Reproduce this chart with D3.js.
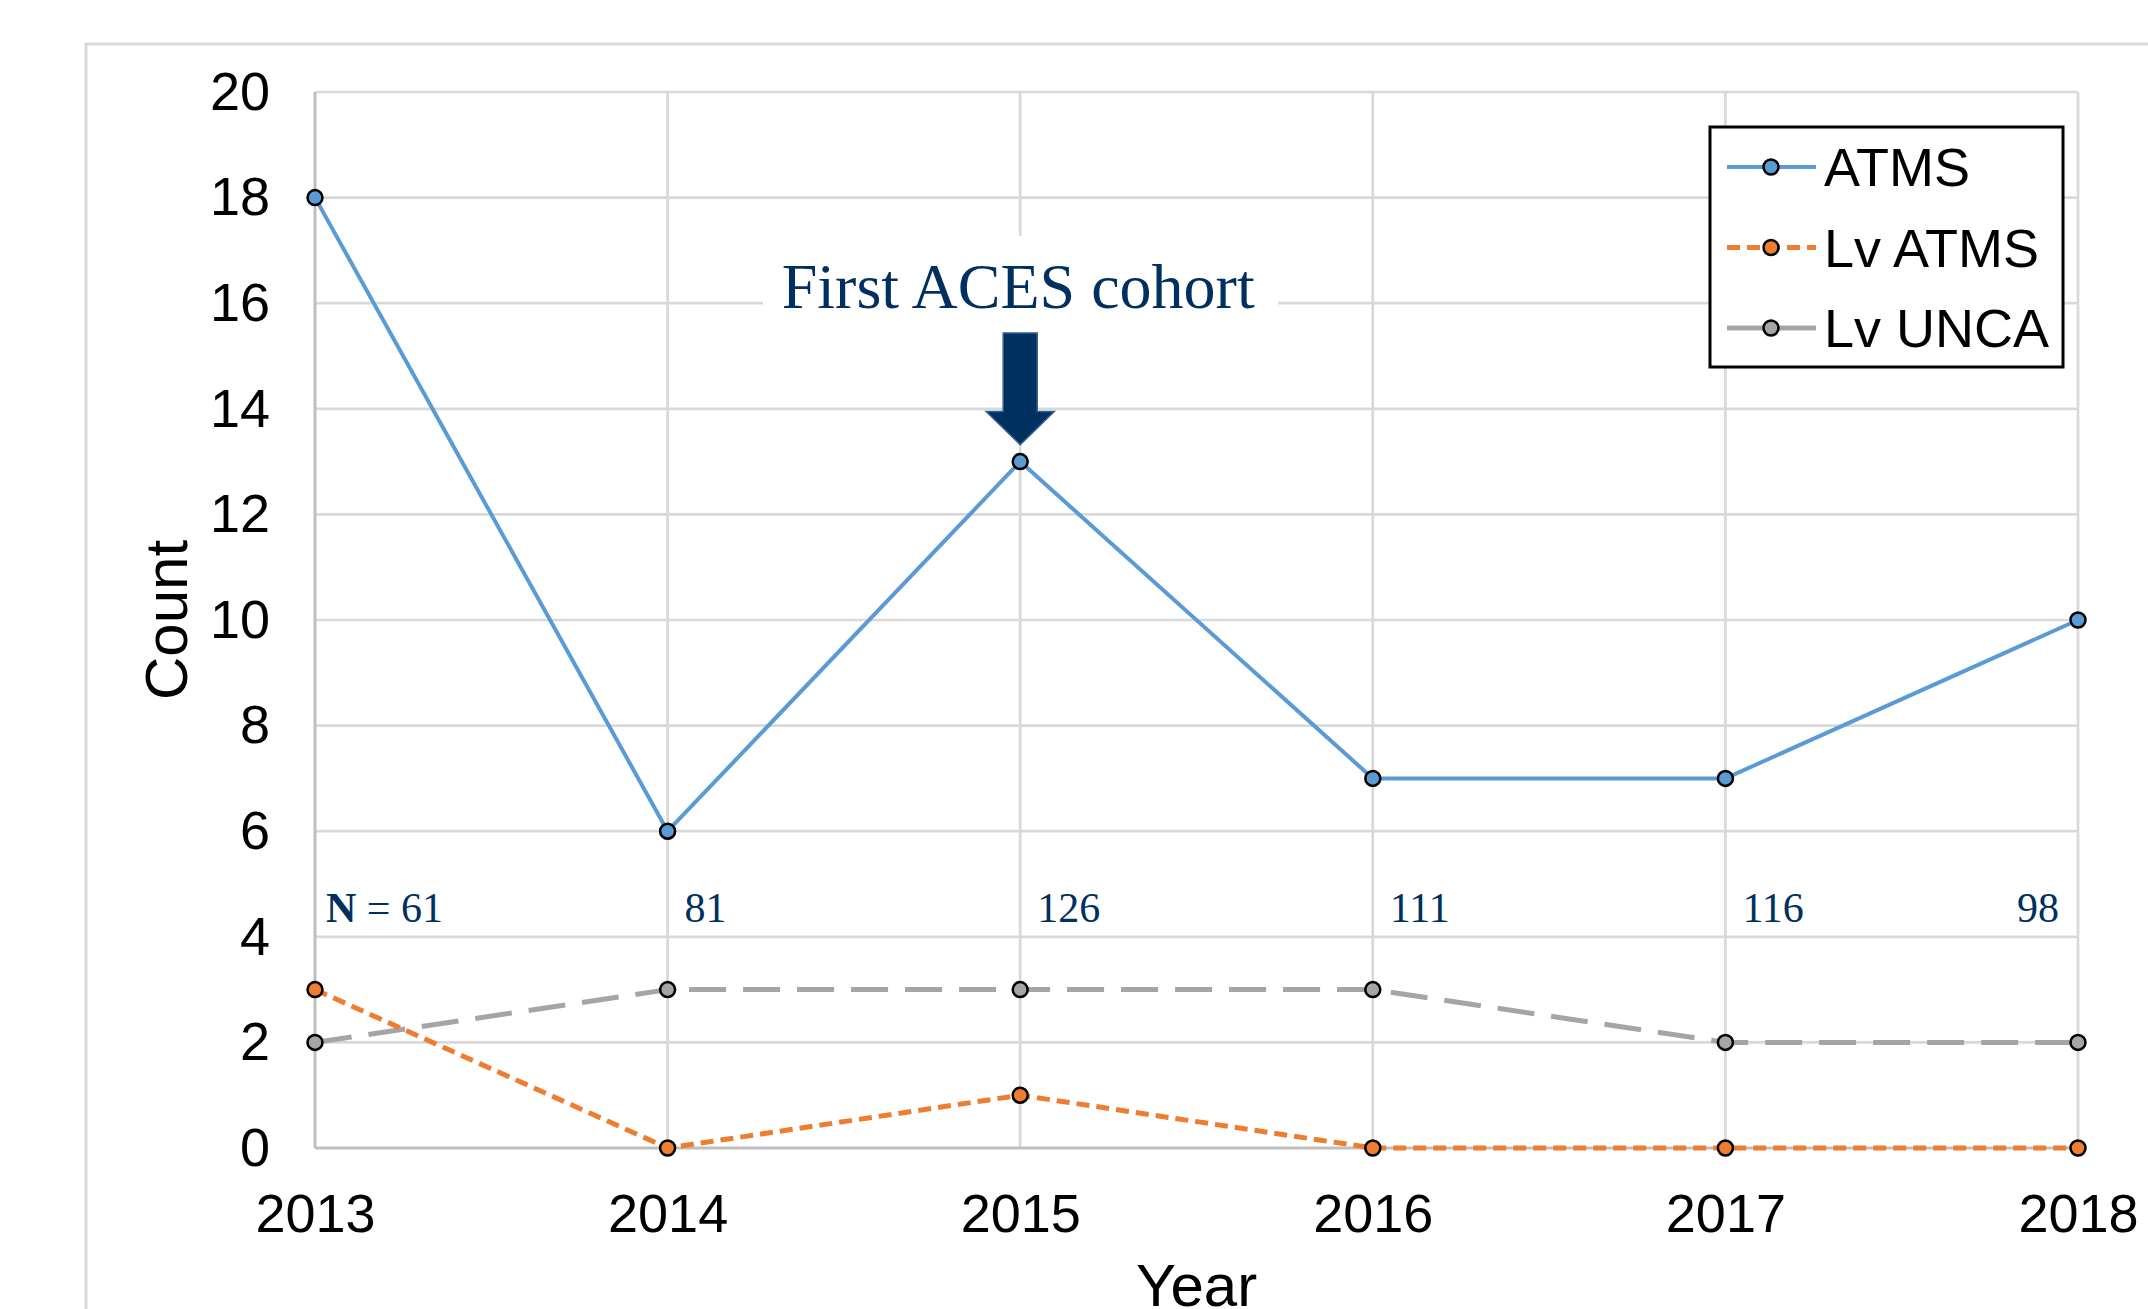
<!DOCTYPE html>
<html><head><meta charset="utf-8">
<script src="https://cdn.jsdelivr.net/npm/d3@7"></script>
<style>
html,body{margin:0;padding:0;background:#fff;overflow:hidden}
svg{display:block}
</style></head>
<body>
<svg id="c" width="2148" height="1309"></svg>
<script>
const years = [2013, 2014, 2015, 2016, 2017, 2018];
const atms = [18, 6, 13, 7, 7, 10];
const lvAtms = [3, 0, 1, 0, 0, 0];
const lvUnca = [2, 3, 3, 3, 2, 2];
const nLabels = ["61", "81", "126", "111", "116", "98"];
const yTicks = [0, 2, 4, 6, 8, 10, 12, 14, 16, 18, 20];
const seriesNames = ["ATMS", "Lv ATMS", "Lv UNCA"];
const annotationText = "First ACES cohort";
const annotationYear = 2015;

const W = 2148, H = 1309;
const svg = d3.select("#c");
const sans = "'Liberation Sans', Arial, sans-serif";
const serif = "'Liberation Serif', 'Times New Roman', serif";
const navy = "#00305f";

const x = d3.scaleLinear().domain([2013, 2018]).range([315, 2078]);
const y = d3.scaleLinear().domain([0, 20]).range([1148, 92]);

// outer chart border
svg.append("rect").attr("x", 86).attr("y", 44).attr("width", W).attr("height", H)
  .attr("fill", "none").attr("stroke", "#d9d9d9").attr("stroke-width", 3);

// gridlines
const g = svg.append("g");
g.selectAll("line.h").data(yTicks.filter(d => d > 0)).enter().append("line")
  .attr("x1", x(2013)).attr("x2", x(2018)).attr("y1", d => y(d)).attr("y2", d => y(d))
  .attr("stroke", "#d9d9d9").attr("stroke-width", 2.7);
g.selectAll("line.v").data(years.slice(1)).enter().append("line")
  .attr("x1", d => x(d)).attr("x2", d => x(d)).attr("y1", y(20)).attr("y2", y(0))
  .attr("stroke", "#d9d9d9").attr("stroke-width", 2.7);
// axis lines
g.append("line").attr("x1", x(2013)).attr("x2", x(2013)).attr("y1", y(20)).attr("y2", y(0))
  .attr("stroke", "#bfbfbf").attr("stroke-width", 3);
g.append("line").attr("x1", x(2013)).attr("x2", x(2018)).attr("y1", y(0)).attr("y2", y(0))
  .attr("stroke", "#bfbfbf").attr("stroke-width", 3);

// axes labels
const ya = svg.append("g").attr("transform", `translate(${x(2013)},0)`)
  .call(d3.axisLeft(y).tickValues(yTicks).tickSize(0).tickPadding(45).tickFormat(d3.format("d")));
ya.select(".domain").remove();
ya.selectAll("text").attr("font-family", sans).attr("font-size", 54).attr("fill", "#000");

const xa = svg.append("g").attr("transform", `translate(0,${y(0)})`)
  .call(d3.axisBottom(x).tickValues(years).tickSize(0).tickPadding(46).tickFormat(d3.format("d")));
xa.select(".domain").remove();
xa.selectAll("text").attr("font-family", sans).attr("font-size", 54).attr("fill", "#000");

svg.append("text").attr("transform", "translate(187,620) rotate(-90)")
  .attr("text-anchor", "middle").attr("font-family", sans).attr("font-size", 60).text("Count");
svg.append("text").attr("x", (x(2013) + x(2018)) / 2).attr("y", 1306)
  .attr("text-anchor", "middle").attr("font-family", sans).attr("font-size", 60).text("Year");

// annotation background + text + arrow
svg.append("rect").attr("x", 763).attr("y", 236).attr("width", 515).attr("height", 97).attr("fill", "#fff");
svg.append("text").attr("x", x(annotationYear) - 2).attr("y", 308).attr("text-anchor", "middle")
  .attr("font-family", serif).attr("font-size", 64).attr("fill", navy).text(annotationText);
{
  const tx = x(annotationYear), ty = y(atms[years.indexOf(annotationYear)]) - 17;
  const p = d3.path();
  p.moveTo(tx - 17, 333); p.lineTo(tx + 17, 333); p.lineTo(tx + 17, ty - 33);
  p.lineTo(tx + 34, ty - 33); p.lineTo(tx, ty); p.lineTo(tx - 34, ty - 33);
  p.lineTo(tx - 17, ty - 33); p.closePath();
  svg.append("path").attr("d", p.toString()).attr("fill", navy).attr("stroke", "#2f5f8f").attr("stroke-width", 1.5);
}

// N labels
const nl = svg.append("g").attr("font-family", serif).attr("font-size", 42).attr("fill", navy);
nLabels.forEach((v, i) => {
  const last = i === nLabels.length - 1;
  const t = nl.append("text").attr("y", 922)
    .attr("x", last ? x(years[i]) - 19 : x(years[i]) + (i === 0 ? 11 : 17))
    .attr("text-anchor", last ? "end" : "start");
  if (i === 0) {
    t.append("tspan").attr("font-weight", "bold").text("N");
    t.append("tspan").text(" = " + v);
  } else t.text(v);
});

// series
const series = [
  {name: seriesNames[0], vals: atms, color: "#5b9bd5", dash: null, width: 4, mfill: "#5b9bd5", legendDash: null},
  {name: seriesNames[1], vals: lvAtms, color: "#ed7d31", dash: "13,7", width: 5, mfill: "#ed7d31", legendDash: "13,7"},
  {name: seriesNames[2], vals: lvUnca, color: "#a5a5a5", dash: "37,17", width: 5, mfill: "#a5a5a5", legendDash: null}
];
const line = d3.line().x((d, i) => x(years[i])).y(d => y(d));
[2, 1, 0].forEach(k => {
  const s = series[k];
  svg.append("path").attr("d", line(s.vals)).attr("fill", "none")
    .attr("stroke", s.color).attr("stroke-width", s.width)
    .attr("stroke-dasharray", s.dash).attr("stroke-linejoin", "round");
  svg.append("g").selectAll("circle").data(s.vals).enter().append("circle")
    .attr("cx", (d, i) => x(years[i])).attr("cy", d => y(d)).attr("r", 7.5)
    .attr("fill", s.mfill).attr("stroke", "#000").attr("stroke-width", 2.5);
});

// legend
const lg = svg.append("g");
lg.append("rect").attr("x", 1710).attr("y", 127).attr("width", 353).attr("height", 240)
  .attr("fill", "#fff").attr("stroke", "#000").attr("stroke-width", 3);
series.forEach((s, i) => {
  const cy = 167 + i * 80.5;
  lg.append("line").attr("x1", 1727).attr("x2", 1816).attr("y1", cy).attr("y2", cy)
    .attr("stroke", s.color).attr("stroke-width", s.width).attr("stroke-dasharray", s.legendDash);
  lg.append("circle").attr("cx", 1771).attr("cy", cy).attr("r", 7.5)
    .attr("fill", s.mfill).attr("stroke", "#000").attr("stroke-width", 2.5);
  lg.append("text").attr("x", 1824).attr("y", cy + 19).attr("font-family", sans)
    .attr("font-size", 54).text(s.name);
});
</script>
</body></html>
